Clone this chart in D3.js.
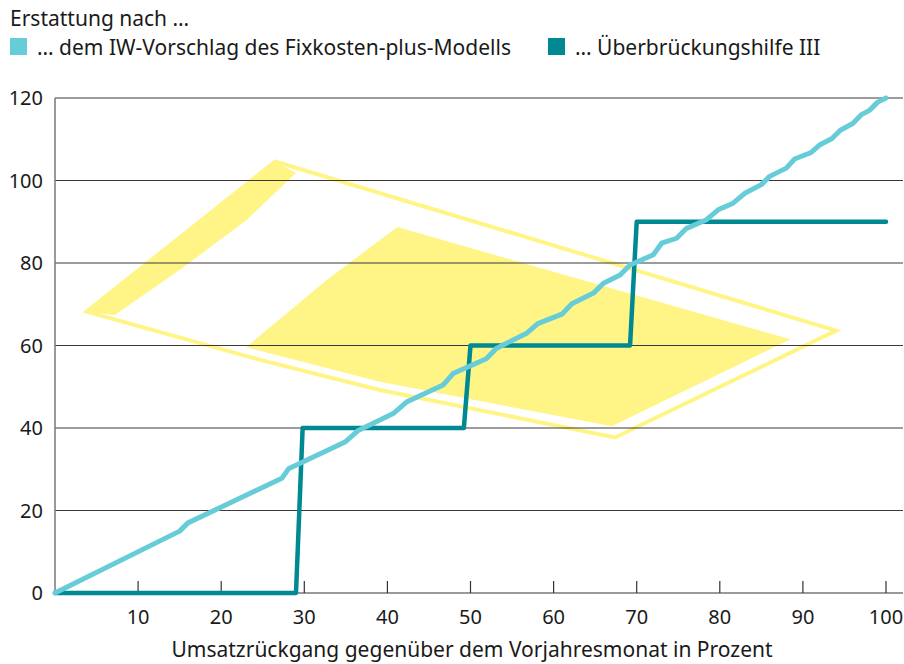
<!DOCTYPE html>
<html>
<head>
<meta charset="utf-8">
<script src="https://cdn.jsdelivr.net/npm/d3@7"></script>
<style>
  body { margin: 0; background: #fff; }
  svg { display: block; font-family: 'Noto Sans', 'Open Sans', sans-serif; }
</style>
</head>
<body>
<svg width="904" height="664"></svg>
<script>
// series: IW proposal (fixed costs plus model)
const iwX = [0, 15, 16, 27.3, 28.1, 34.9, 36.5, 40.7, 42.3, 46.7, 47.9, 51.9, 53.1, 56.7, 58.1, 61, 62.2, 64.8, 66, 68, 69.2, 72, 73, 74.8, 76, 78.4, 79.8, 81.6, 83, 85, 86, 88, 89, 91, 92, 93.5, 94.5, 96, 97, 98, 99, 100];
const iwY = [0, 15, 17, 27.8, 30.1, 36.6, 39.4, 43.5, 46.3, 50.4, 53.2, 56.8, 59.3, 62.9, 65.3, 67.6, 70.1, 72.7, 75.1, 77.1, 79.5, 82, 84.8, 86, 88.4, 90.5, 92.9, 94.5, 96.9, 99, 101, 103, 105.2, 106.8, 108.6, 110.2, 112.2, 113.8, 115.9, 117, 119, 120];

// series: Überbrückungshilfe III
const uhX = [0, 29, 29.8, 49.2, 50, 69.2, 70, 100];
const uhY = [0, 0, 40, 40, 60, 60, 90, 90];

const xTicks = [10, 20, 30, 40, 50, 60, 70, 80, 90, 100];
const yTicks = [0, 20, 40, 60, 80, 100, 120];

const legendTitle = 'Erstattung nach …';
const seriesNames = ['… dem IW-Vorschlag des Fixkosten-plus-Modells', '… Überbrückungshilfe III'];
const xTitle = 'Umsatzrückgang gegenüber dem Vorjahresmonat in Prozent';

// background logo, in data units
const logoOuter = [[3.8, 68.2], [26.5, 104.6], [94, 63.6], [67.4, 37.7], [39.1, 49.2], [24.7, 56.5]];
const logoBand = [[3.8, 68.2], [26.5, 104.6], [29, 101.8], [23.1, 90.5], [15, 78.3], [7.2, 67.4]];
const logoInner = [[41.2, 88.7], [88.5, 61.5], [67, 40.4], [39.1, 51.2], [23, 59.6], [32.7, 75.9]];

const colLight = '#66ccd8';
const colDark = '#008993';
const colLogo = '#fff587';
const fs = 21, fsNum = 20;

const svg = d3.select('svg');
const plotLeft = 55, plotRight = 886, plotTop = 98, plotBottom = 593, gridEnd = 903;

const x = d3.scaleLinear().domain([0, 100]).range([plotLeft, plotRight]);
const y = d3.scaleLinear().domain([0, 120]).range([plotBottom, plotTop]);

// logo
const poly = d3.line().x(d => x(d[0])).y(d => y(d[1])).curve(d3.curveLinearClosed);
svg.append('path').attr('d', poly(logoOuter))
  .attr('fill', 'none').attr('stroke', colLogo).attr('stroke-width', 4).attr('stroke-linejoin', 'miter');
svg.append('path').attr('d', poly(logoBand)).attr('fill', colLogo);
svg.append('path').attr('d', poly(logoInner)).attr('fill', colLogo);

// grid
svg.append('g')
  .selectAll('line')
  .data(yTicks.filter(d => d > 0))
  .enter()
  .append('line')
  .attr('x1', plotLeft).attr('x2', gridEnd)
  .attr('y1', d => y(d)).attr('y2', d => y(d))
  .attr('stroke', '#3a3a3a').attr('stroke-width', 1.2);

// axes lines
svg.append('line').attr('x1', plotLeft).attr('x2', plotLeft).attr('y1', plotTop).attr('y2', plotBottom)
  .attr('stroke', '#777').attr('stroke-width', 1.5);
svg.append('line').attr('x1', plotLeft).attr('x2', gridEnd).attr('y1', plotBottom).attr('y2', plotBottom)
  .attr('stroke', '#777').attr('stroke-width', 1.5);

// x ticks (pointing up into the plot)
svg.append('g')
  .selectAll('line')
  .data(xTicks)
  .enter()
  .append('line')
  .attr('x1', d => x(d)).attr('x2', d => x(d))
  .attr('y1', plotBottom - 12).attr('y2', plotBottom)
  .attr('stroke', '#333').attr('stroke-width', 1.2);

svg.append('g')
  .selectAll('text')
  .data(xTicks)
  .enter()
  .append('text')
  .attr('x', d => x(d)).attr('y', 624)
  .attr('text-anchor', 'middle')
  .attr('font-size', fsNum).attr('fill', '#1a1a1a')
  .text(d => d);

svg.append('g')
  .selectAll('text')
  .data(yTicks)
  .enter()
  .append('text')
  .attr('x', 43).attr('y', d => y(d) + 7)
  .attr('text-anchor', 'end')
  .attr('font-size', fsNum).attr('fill', '#1a1a1a')
  .text(d => d);

svg.append('text')
  .attr('x', 472).attr('y', 657)
  .attr('text-anchor', 'middle')
  .attr('font-size', fs).attr('fill', '#1a1a1a')
  .text(xTitle);

// series lines
const line = d3.line().x(d => x(d[0])).y(d => y(d[1]));
svg.append('path')
  .attr('d', line(uhX.map((v, i) => [v, uhY[i]])))
  .attr('fill', 'none').attr('stroke', colDark).attr('stroke-width', 4.5)
  .attr('stroke-linejoin', 'round').attr('stroke-linecap', 'round');
svg.append('path')
  .attr('d', line(iwX.map((v, i) => [v, iwY[i]])))
  .attr('fill', 'none').attr('stroke', colLight).attr('stroke-width', 5)
  .attr('stroke-linejoin', 'round').attr('stroke-linecap', 'round');

// legend
svg.append('text').attr('x', 10).attr('y', 26)
  .attr('font-size', fs).attr('fill', '#1a1a1a').text(legendTitle);

const legend = [
  { name: seriesNames[0], color: colLight, sx: 10 },
  { name: seriesNames[1], color: colDark, sx: 548 }
];
const lg = svg.append('g').selectAll('g').data(legend).enter().append('g');
lg.append('rect').attr('x', d => d.sx).attr('y', 38).attr('width', 17).attr('height', 17)
  .attr('fill', d => d.color);
lg.append('text').attr('x', d => d.sx + 27).attr('y', 55)
  .attr('font-size', fs).attr('fill', '#1a1a1a').text(d => d.name);
</script>
</body>
</html>
